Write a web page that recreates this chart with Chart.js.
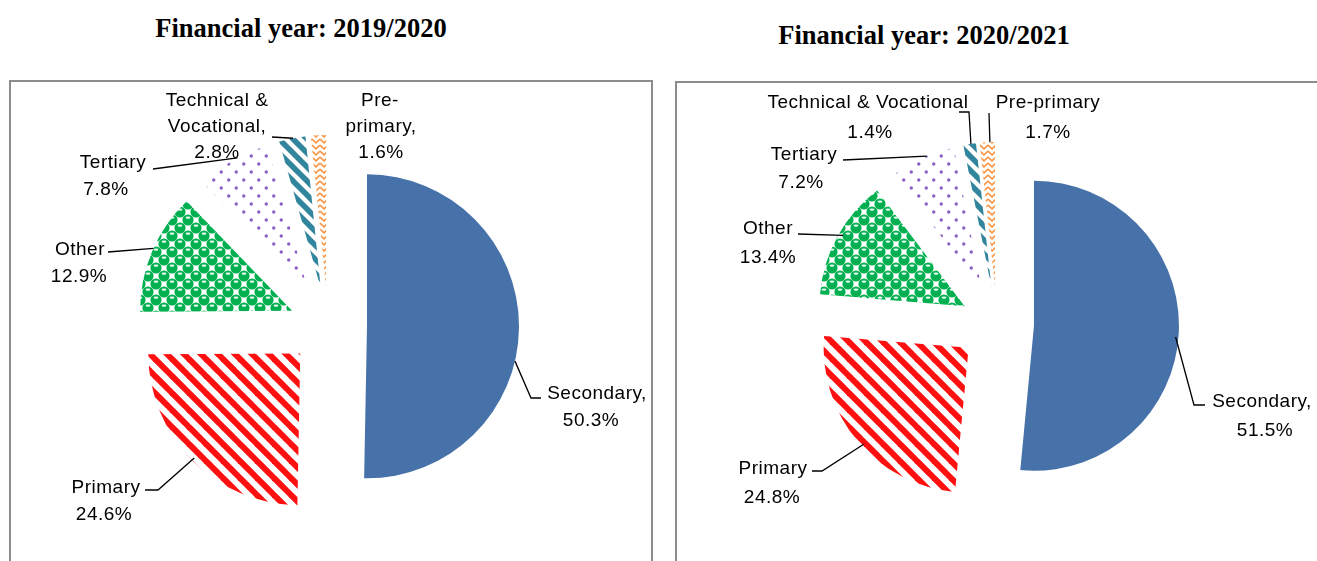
<!DOCTYPE html>
<html><head><meta charset="utf-8">
<script src="https://cdn.jsdelivr.net/npm/chart.js@4"></script>
<style>
html,body{margin:0;padding:0;background:#fff;width:1317px;height:561px;overflow:hidden;position:relative}
.frame{position:absolute;border:2px solid #8c8c8c;box-sizing:border-box}
.title{position:absolute;font:bold 26.5px "Liberation Serif",serif;text-align:center;line-height:30px;color:#000;white-space:nowrap}
.holder{position:absolute;top:0}
canvas{display:block}
</style></head><body>
<div class="frame" style="left:9px;top:80px;width:644px;height:560px"></div>
<div class="frame" style="left:675px;top:81px;width:700px;height:560px"></div>
<div class="title" style="left:0;width:602px;top:13px">Financial year: 2019/2020</div>
<div class="title" style="left:624px;width:600px;top:20px">Financial year: 2020/2021</div>
<div class="holder" style="left:0"><canvas id="c1" width="660" height="561"></canvas></div>
<div class="holder" style="left:660px"><canvas id="c2" width="657" height="561"></canvas></div>
<script>
// ---- data ----
const categories = ["Secondary", "Primary", "Other", "Tertiary", "Technical & Vocational", "Pre-primary"];
const share2019 = [50.3, 24.6, 12.9, 7.8, 2.8, 1.6];
const share2020 = [51.5, 24.8, 13.4, 7.2, 1.4, 1.7];
const labelNames2019 = [["Secondary,"], ["Primary"], ["Other"], ["Tertiary"], ["Technical &", "Vocational,"], ["Pre-", "primary,"]];
const labelNames2020 = [["Secondary,"], ["Primary"], ["Other"], ["Tertiary"], ["Technical & Vocational"], ["Pre-primary"]];

// ---- patterns ----
function tile(w, h, draw) {
  const c = document.createElement('canvas'); c.width = w; c.height = h;
  const g = c.getContext('2d'); g.fillStyle = '#fff'; g.fillRect(0, 0, w, h); draw(g, w, h);
  return document.createElement('canvas').getContext('2d').createPattern(c, 'repeat');
}
function stripes(color, s, lw) {
  return tile(s, s, (g) => {
    g.strokeStyle = color; g.lineWidth = lw; g.lineCap = 'butt';
    for (let k = -1; k <= 1; k++) { g.beginPath(); g.moveTo(k * s - 2, -2); g.lineTo(k * s + s + 2, s + 2); g.stroke(); }
  });
}
const patSecondary = '#4672A9';
const patPrimary = stripes('#ff1010', 17, 6);
const patOther = tile(16, 16, (g) => {
  [[4, 4], [12, 12], [-4, 12], [12, -4], [20, 4], [4, 20], [-4, -4], [20, 20]].forEach(([x, y]) => {
    g.fillStyle = '#00b050'; g.beginPath(); g.arc(x, y, 5.6, 0, Math.PI * 2); g.fill();
    g.fillStyle = 'rgba(255,255,255,0.9)'; g.beginPath(); g.ellipse(x, y - 2.4, 2.4, 1.2, 0, 0, Math.PI * 2); g.fill();
  });
});
const patTertiary = tile(15, 16, (g) => {
  g.fillStyle = '#8b5fc4';
  [[3.75, 4], [11.25, 12]].forEach(([x, y]) => { g.beginPath(); g.arc(x, y, 1.7, 0, Math.PI * 2); g.fill(); });
});
const patTech = stripes('#31859c', 14, 5.5);
const patPre = tile(8, 6, (g) => {
  g.strokeStyle = '#f79646'; g.lineWidth = 1.7;
  g.beginPath(); g.moveTo(0, 1); g.lineTo(4, 4.8); g.lineTo(8, 1); g.stroke();
});
const sliceFills = [patSecondary, patPrimary, patOther, patTertiary, patTech, patPre];

// ---- plugins ----
const explodePlugin = {
  id: 'explode',
  afterDatasetUpdate(chart, args, opts) {
    const d = opts.distance || 0;
    args.meta.data.forEach(arc => {
      const mid = (arc.startAngle + arc.endAngle) / 2;
      arc.x += Math.cos(mid) * d;
      arc.y += Math.sin(mid) * d;
    });
  }
};
const labelPlugin = {
  id: 'sliceLabels',
  afterDraw(chart, args, opts) {
    const ctx = chart.ctx, meta = chart.getDatasetMeta(0), vals = chart.data.datasets[0].data;
    ctx.save();
    ctx.font = opts.font; ctx.fillStyle = '#000'; ctx.textAlign = 'center'; ctx.textBaseline = 'middle';
    if ('letterSpacing' in ctx) ctx.letterSpacing = opts.spacing || '0px';
    ctx.strokeStyle = '#000'; ctx.lineWidth = 1.3;
    opts.items.forEach((it, i) => {
      const lines = opts.names[i].concat([vals[i].toFixed(1) + '%']);
      lines.forEach((t, j) => ctx.fillText(t, it.xs[j] - opts.ox, it.ys[j]));
      if (it.path) {
        const arc = meta.data[i];
        const a = arc.startAngle + it.anchor[0] * (arc.endAngle - arc.startAngle);
        const r = arc.outerRadius * it.anchor[1];
        ctx.beginPath();
        ctx.moveTo(it.path[0][0] - opts.ox, it.path[0][1]);
        for (let k = 1; k < it.path.length; k++) ctx.lineTo(it.path[k][0] - opts.ox, it.path[k][1]);
        ctx.lineTo(arc.x + Math.cos(a) * r, arc.y + Math.sin(a) * r);
        ctx.stroke();
      }
    });
    ctx.restore();
  }
};

const labelLayout2019 = [
  { xs: [597, 591], ys: [394, 421], path: [[541, 398], [531, 398]], anchor: [0.57, 1.0] },
  { xs: [106, 104], ys: [488, 515], path: [[145, 490], [158, 490]], anchor: [0.5, 0.98] },
  { xs: [80, 79], ys: [250, 277], path: [[108, 252]], anchor: [0.53, 1.0] },
  { xs: [113, 106], ys: [163, 190], path: [[153, 169]], anchor: [0.57, 1.0] },
  { xs: [217, 217, 217], ys: [101, 127, 153], path: [[272, 137]], anchor: [0.53, 1.0] },
  { xs: [380, 381, 381], ys: [101, 127, 153], path: null }
];
const labelLayout2020 = [
  { xs: [1262, 1265], ys: [402, 431], path: [[1205, 405], [1194, 405]], anchor: [0.51, 0.98] },
  { xs: [773, 772], ys: [469, 498], path: [[812, 471], [822, 471]], anchor: [0.47, 0.98] },
  { xs: [768, 768], ys: [229, 258], path: [[798, 234]], anchor: [0.53, 0.97] },
  { xs: [804, 801], ys: [155, 183], path: [[843, 160]], anchor: [0.57, 1.0] },
  { xs: [868, 870], ys: [103, 133], path: [[959, 112], [969, 112]], anchor: [0.6, 1.0] },
  { xs: [1048, 1048], ys: [103, 133], path: [[989, 113]], anchor: [0.67, 1.0] }
];

function makePie(id, values, names, layout, ox, padding, radius, explode) {
  return new Chart(document.getElementById(id), {
    type: 'pie',
    data: {
      labels: categories,
      datasets: [{ data: values, backgroundColor: sliceFills, borderWidth: 0, radius: radius }]
    },
    options: {
      responsive: false,
      animation: false,
      events: [],
      layout: { padding: padding },
      plugins: {
        legend: { display: false },
        tooltip: { enabled: false },
        explode: { distance: explode },
        sliceLabels: { items: layout, names: names, ox: ox, font: '19px "Liberation Sans", Arial, sans-serif', spacing: '0.5px' }
      }
    },
    plugins: [explodePlugin, labelPlugin]
  });
}
makePie('c1', share2019, labelNames2019, labelLayout2019, 0, { left: 0, right: 4, top: 91, bottom: 0 }, 152, 39);
makePie('c2', share2020, labelNames2020, labelLayout2020, 660, { left: 17, right: 0, top: 87, bottom: 0 }, 145, 37);
</script>
</body></html>
